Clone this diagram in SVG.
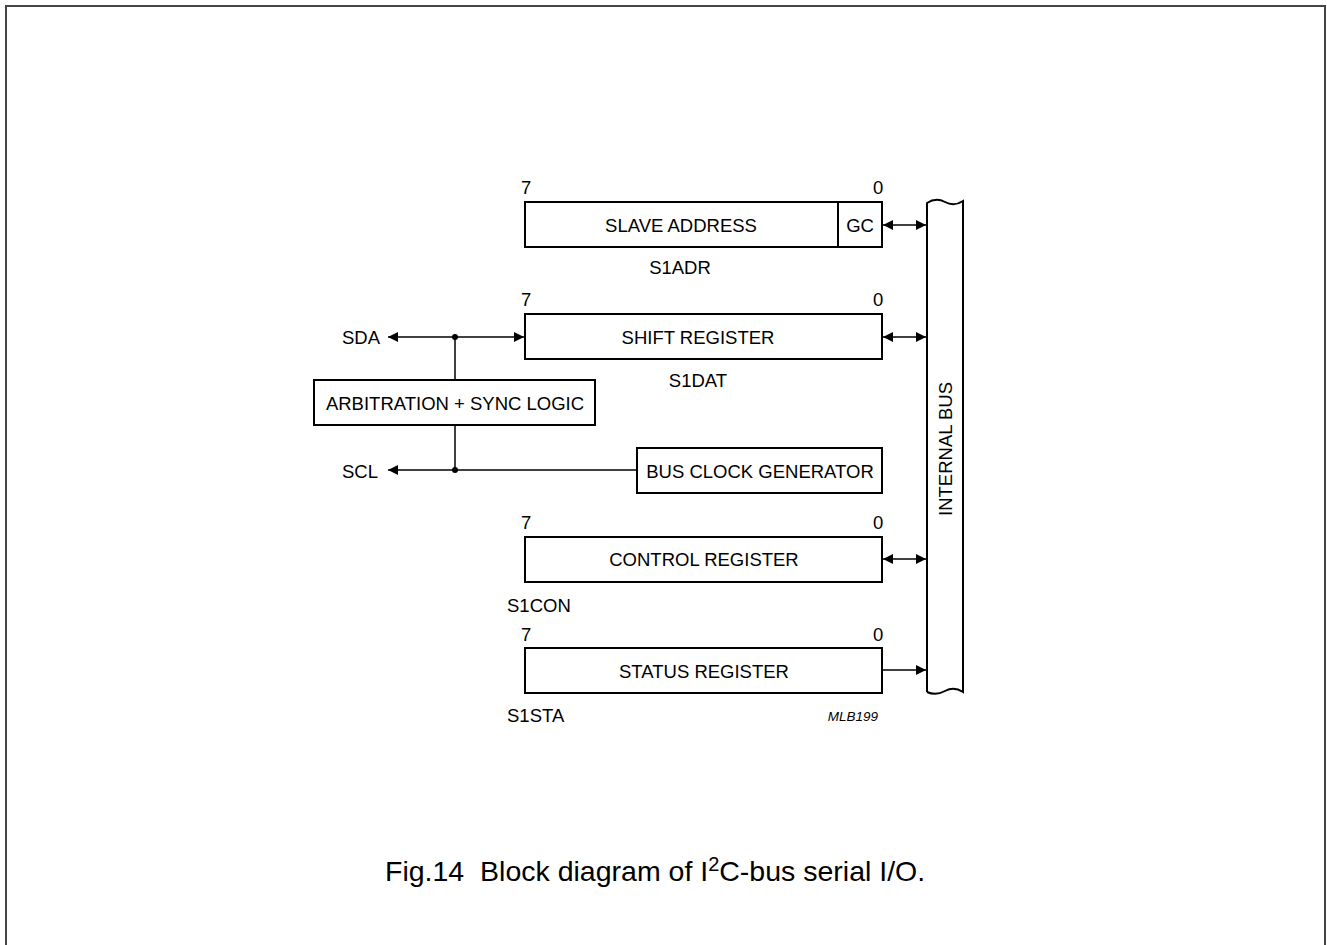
<svg xmlns="http://www.w3.org/2000/svg" width="1327" height="945" viewBox="0 0 1327 945">
<style>
text{font-family:"Liberation Sans",Arial,sans-serif;font-size:18.5px;fill:#000}
.box{fill:#fff;stroke:#000;stroke-width:2}
.ln{fill:none;stroke:#000;stroke-width:1.5}
.m{text-anchor:middle}
</style>
<defs>
<marker id="ah" viewBox="0 0 10 10" refX="10" refY="5" markerWidth="10" markerHeight="10" markerUnits="userSpaceOnUse" orient="auto-start-reverse">
<path d="M0,0 L10,5 L0,10 z" fill="#000"/>
</marker>
</defs>
<rect x="0" y="0" width="1327" height="945" fill="#fff"/>
<rect x="6" y="6" width="1319" height="960" fill="none" stroke="#444" stroke-width="2"/>

<g id="bus">
<path d="M927,692 L927,203 Q936,197 945,202 Q954,207 963,201 L963,692 Q954,686 945,691 Q936,696 927,692" class="box"/>
<text class="m" transform="translate(952,449) rotate(-90)">INTERNAL BUS</text>
</g>

<g id="s1adr">
<rect x="525" y="202" width="357" height="45" class="box"/>
<line x1="838" y1="202" x2="838" y2="247" stroke="#000" stroke-width="2"/>
<text x="681" y="232" class="m">SLAVE ADDRESS</text>
<text x="860" y="232" class="m">GC</text>
<text x="521" y="194">7</text>
<text x="873" y="194">0</text>
<text x="680" y="274" class="m">S1ADR</text>
</g>

<g id="s1dat">
<rect x="525" y="314" width="357" height="45" class="box"/>
<text x="698" y="344" class="m">SHIFT REGISTER</text>
<text x="521" y="306">7</text>
<text x="873" y="306">0</text>
<text x="698" y="387" class="m">S1DAT</text>
</g>

<g id="arb">
<rect x="314" y="380" width="281" height="45" class="box"/>
<text x="455" y="410" class="m">ARBITRATION + SYNC LOGIC</text>
</g>

<g id="busclk">
<rect x="637" y="448" width="245" height="45" class="box"/>
<text x="760" y="478" class="m">BUS CLOCK GENERATOR</text>
</g>

<g id="s1con">
<rect x="525" y="537" width="357" height="45" class="box"/>
<text x="704" y="566" class="m">CONTROL REGISTER</text>
<text x="521" y="529">7</text>
<text x="873" y="529">0</text>
<text x="507" y="612">S1CON</text>
</g>

<g id="s1sta">
<rect x="525" y="648" width="357" height="45" class="box"/>
<text x="704" y="678" class="m">STATUS REGISTER</text>
<text x="521" y="641">7</text>
<text x="873" y="641">0</text>
<text x="507" y="722">S1STA</text>
<text x="878" y="721" text-anchor="end" style="font-size:13.5px;font-style:italic">MLB199</text>
</g>

<g id="pins">
<text x="380" y="344" text-anchor="end">SDA</text>
<text x="378" y="478" text-anchor="end">SCL</text>
</g>

<g id="connectors">
<line x1="883" y1="225" x2="926" y2="225" class="ln" marker-start="url(#ah)" marker-end="url(#ah)"/>
<line x1="883" y1="337" x2="926" y2="337" class="ln" marker-start="url(#ah)" marker-end="url(#ah)"/>
<line x1="883" y1="559" x2="926" y2="559" class="ln" marker-start="url(#ah)" marker-end="url(#ah)"/>
<line x1="883" y1="670" x2="926" y2="670" class="ln" marker-end="url(#ah)"/>
<line x1="388" y1="337" x2="455" y2="337" class="ln" marker-start="url(#ah)"/>
<line x1="455" y1="337" x2="524" y2="337" class="ln" marker-end="url(#ah)"/>
<line x1="455" y1="337" x2="455" y2="380" class="ln"/>
<line x1="455" y1="425" x2="455" y2="470" class="ln"/>
<line x1="388" y1="470" x2="637" y2="470" class="ln" marker-start="url(#ah)"/>
<circle cx="455" cy="337" r="3" fill="#000"/>
<circle cx="455" cy="470" r="3" fill="#000"/>
</g>

<text x="385" y="881" xml:space="preserve" style="font-size:28.5px">Fig.14  Block diagram of I<tspan dy="-10" style="font-size:20px">2</tspan><tspan dy="10">C-bus serial I/O.</tspan></text>
</svg>
